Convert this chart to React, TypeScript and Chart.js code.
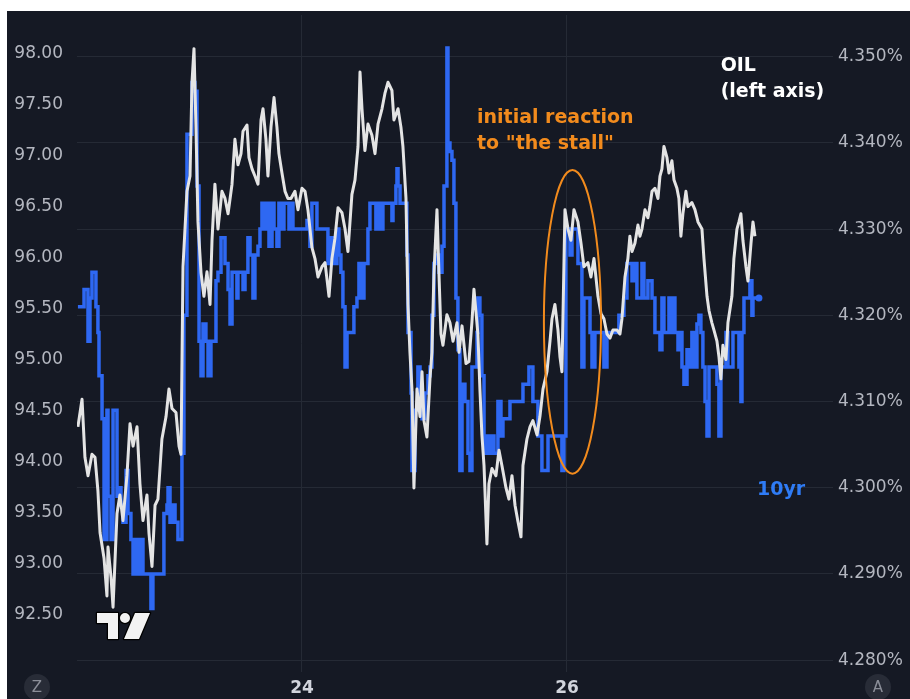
import React, { useEffect, useRef } from "react";
import { Chart, registerables } from "chart.js";

Chart.register(...registerables);

// ---- time axis (day of month) ----
const DAY_TICKS = [24, 26];
const DAY_RANGE = [22.302, 28.008];

// ---- OIL (left axis) ----
const OIL_TICKS = [92.5, 93, 93.5, 94, 94.5, 95, 95.5, 96, 96.5, 97, 97.5, 98];
const OIL_RANGE = [91.934, 98.38];
const OIL_TIMES = [
  22.309, 22.340, 22.362, 22.385, 22.415, 22.438, 22.460, 22.476, 22.506, 22.528,
  22.536, 22.559, 22.574, 22.604, 22.626, 22.649, 22.679, 22.702, 22.725, 22.755,
  22.777, 22.800, 22.830, 22.845, 22.868, 22.891, 22.913, 22.943, 22.974, 22.996,
  23.019, 23.049, 23.072, 23.087, 23.102, 23.132, 23.155, 23.170, 23.185, 23.200,
  23.215, 23.238, 23.260, 23.283, 23.306, 23.321, 23.343, 23.366, 23.396, 23.419,
  23.442, 23.472, 23.494, 23.517, 23.540, 23.555, 23.585, 23.600, 23.623, 23.645,
  23.668, 23.691, 23.706, 23.728, 23.743, 23.766, 23.789, 23.811, 23.826, 23.849,
  23.872, 23.894, 23.917, 23.947, 23.970, 24.000, 24.023, 24.045, 24.075, 24.098,
  24.121, 24.151, 24.174, 24.204, 24.226, 24.249, 24.272, 24.302, 24.325, 24.347,
  24.377, 24.400, 24.423, 24.438, 24.453, 24.475, 24.498, 24.528, 24.551, 24.574,
  24.604, 24.626, 24.649, 24.679, 24.694, 24.725, 24.747, 24.762, 24.785, 24.800,
  24.815, 24.830, 24.845, 24.868, 24.891, 24.906, 24.921, 24.943, 24.966, 24.981,
  24.996, 25.019, 25.034, 25.049, 25.064, 25.094, 25.117, 25.140, 25.170, 25.185,
  25.208, 25.238, 25.260, 25.283, 25.298, 25.328, 25.343, 25.358, 25.374, 25.396,
  25.411, 25.434, 25.464, 25.487, 25.509, 25.540, 25.562, 25.585, 25.608, 25.630,
  25.653, 25.668, 25.698, 25.721, 25.743, 25.774, 25.796, 25.819, 25.849, 25.872,
  25.887, 25.909, 25.932, 25.947, 25.962, 25.985, 26.008, 26.030, 26.053, 26.083,
  26.106, 26.128, 26.158, 26.181, 26.204, 26.234, 26.257, 26.279, 26.302, 26.325,
  26.347, 26.377, 26.400, 26.415, 26.438, 26.460, 26.475, 26.491, 26.513, 26.536,
  26.551, 26.566, 26.589, 26.611, 26.626, 26.642, 26.664, 26.687, 26.702, 26.717,
  26.732, 26.755, 26.770, 26.792, 26.808, 26.830, 26.845, 26.860, 26.875, 26.898,
  26.913, 26.943, 26.966, 26.989, 27.019, 27.034, 27.057, 27.072, 27.094, 27.109,
  27.132, 27.147, 27.162, 27.177, 27.200, 27.215, 27.245, 27.260, 27.283, 27.298,
  27.313, 27.328, 27.351, 27.366, 27.389, 27.404, 27.419,
];
const OIL_VALUES = [
  94.34, 94.61, 94.04, 93.86, 94.07, 94.04, 93.71, 93.30, 93.05, 92.68,
  93.16, 92.86, 92.57, 93.49, 93.67, 93.42, 93.86, 94.37, 94.15, 94.34,
  93.78, 93.42, 93.67, 93.30, 92.97, 93.57, 93.63, 94.22, 94.44, 94.71,
  94.52, 94.48, 94.15, 94.07, 95.91, 96.65, 96.80, 97.72, 98.05, 97.28,
  96.35, 95.85, 95.62, 95.86, 95.54, 96.17, 96.72, 96.28, 96.65, 96.58,
  96.43, 96.72, 97.16, 96.91, 97.02, 97.24, 97.30, 96.98, 96.87, 96.80,
  96.72, 97.35, 97.46, 97.16, 96.80, 97.28, 97.57, 97.28, 97.02, 96.83,
  96.65, 96.58, 96.58, 96.65, 96.47, 96.68, 96.65, 96.47, 96.10, 95.99,
  95.81, 95.91, 95.95, 95.62, 95.99, 96.19, 96.49, 96.44, 96.28, 96.06,
  96.62, 96.76, 97.09, 97.82, 97.46, 97.05, 97.31, 97.20, 97.02, 97.31,
  97.46, 97.61, 97.72, 97.64, 97.35, 97.46, 97.28, 97.09, 96.58, 95.54,
  95.07, 94.71, 93.74, 94.71, 94.44, 94.88, 94.40, 94.24, 94.81, 95.07,
  95.84, 96.47, 95.84, 95.25, 95.14, 95.44, 95.36, 95.18, 95.36, 95.07,
  95.33, 94.96, 94.98, 95.37, 95.69, 95.25, 94.71, 94.26, 93.96, 93.19,
  93.78, 93.93, 93.86, 94.11, 93.96, 93.74, 93.63, 93.86, 93.57, 93.41,
  93.26, 93.96, 94.22, 94.34, 94.40, 94.26, 94.44, 94.71, 94.88, 95.18,
  95.40, 95.54, 95.29, 95.03, 94.88, 96.47, 96.28, 96.17, 96.47, 96.35,
  96.14, 95.91, 95.95, 95.81, 95.99, 95.62, 95.45, 95.40, 95.25, 95.21,
  95.29, 95.29, 95.25, 95.40, 95.81, 95.99, 96.21, 96.06, 96.14, 96.32,
  96.21, 96.28, 96.47, 96.39, 96.50, 96.65, 96.68, 96.58, 96.80, 96.87,
  97.09, 96.98, 96.83, 96.95, 96.76, 96.68, 96.58, 96.21, 96.43, 96.65,
  96.50, 96.54, 96.47, 96.35, 96.28, 95.99, 95.62, 95.48, 95.36, 95.29,
  95.18, 95.03, 94.81, 95.14, 95.00, 95.36, 95.62, 95.99, 96.28, 96.35,
  96.43, 96.17, 95.91, 95.77, 96.14, 96.35, 96.21,
];

// ---- 10yr yield (right axis) ----
const YIELD_TICKS = [4.28, 4.29, 4.3, 4.31, 4.32, 4.33, 4.34, 4.35];
const YIELD_RANGE = [4.27862, 4.35484];
const YIELD_TIMES = [
  22.309, 22.340, 22.355, 22.377, 22.385, 22.400, 22.415, 22.430, 22.445, 22.460,
  22.468, 22.483, 22.491, 22.506, 22.528, 22.536, 22.559, 22.574, 22.604, 22.611,
  22.634, 22.649, 22.672, 22.687, 22.709, 22.725, 22.747, 22.762, 22.785, 22.800,
  22.845, 22.860, 22.875, 22.943, 22.958, 22.981, 22.989, 23.004, 23.019, 23.042,
  23.064, 23.087, 23.094, 23.109, 23.132, 23.155, 23.170, 23.192, 23.208, 23.223,
  23.238, 23.253, 23.275, 23.291, 23.313, 23.336, 23.351, 23.366, 23.389, 23.404,
  23.419, 23.442, 23.457, 23.472, 23.494, 23.509, 23.517, 23.547, 23.555, 23.570,
  23.592, 23.608, 23.623, 23.630, 23.645, 23.668, 23.683, 23.698, 23.713, 23.736,
  23.751, 23.774, 23.789, 23.811, 23.826, 23.849, 23.864, 23.887, 23.902, 23.917,
  23.932, 24.008, 24.038, 24.060, 24.075, 24.098, 24.113, 24.174, 24.196, 24.219,
  24.242, 24.264, 24.279, 24.294, 24.309, 24.325, 24.340, 24.377, 24.392, 24.415,
  24.430, 24.453, 24.468, 24.498, 24.513, 24.536, 24.558, 24.574, 24.596, 24.611,
  24.664, 24.679, 24.687, 24.709, 24.717, 24.725, 24.740, 24.777, 24.792, 24.800,
  24.823, 24.830, 24.853, 24.875, 24.891, 24.906, 24.928, 24.951, 24.966, 24.981,
  24.996, 25.019, 25.034, 25.057, 25.072, 25.094, 25.102, 25.117, 25.132, 25.147,
  25.162, 25.177, 25.192, 25.208, 25.230, 25.253, 25.268, 25.283, 25.298, 25.321,
  25.328, 25.343, 25.358, 25.374, 25.396, 25.411, 25.434, 25.449, 25.479, 25.502,
  25.517, 25.547, 25.570, 25.645, 25.668, 25.698, 25.713, 25.736, 25.743, 25.766,
  25.781, 25.796, 25.811, 25.834, 25.857, 25.932, 25.962, 25.977, 25.992, 26.008,
  26.023, 26.038, 26.060, 26.083, 26.106, 26.113, 26.128, 26.158, 26.174, 26.189,
  26.211, 26.264, 26.279, 26.302, 26.377, 26.392, 26.415, 26.430, 26.453, 26.468,
  26.491, 26.506, 26.528, 26.543, 26.566, 26.581, 26.611, 26.642, 26.664, 26.687,
  26.702, 26.717, 26.732, 26.755, 26.770, 26.785, 26.800, 26.815, 26.838, 26.853,
  26.868, 26.883, 26.906, 26.921, 26.943, 26.958, 26.981, 26.996, 27.011, 27.026,
  27.042, 27.057, 27.072, 27.109, 27.132, 27.147, 27.162, 27.177, 27.200, 27.215,
  27.238, 27.253, 27.283, 27.298, 27.313, 27.321, 27.336, 27.366, 27.381, 27.396,
  27.404, 27.449,
];
const YIELD_VALUES = [
  4.321, 4.321, 4.323, 4.323, 4.317, 4.322, 4.325, 4.325, 4.321, 4.318,
  4.313, 4.313, 4.308, 4.294, 4.309, 4.299, 4.294, 4.309, 4.299, 4.300,
  4.298, 4.296, 4.302, 4.297, 4.294, 4.290, 4.294, 4.290, 4.294, 4.290,
  4.290, 4.286, 4.290, 4.290, 4.297, 4.298, 4.300, 4.296, 4.298, 4.296,
  4.294, 4.294, 4.304, 4.320, 4.341, 4.341, 4.347, 4.346, 4.335, 4.317,
  4.313, 4.319, 4.317, 4.313, 4.317, 4.317, 4.324, 4.325, 4.329, 4.329,
  4.326, 4.323, 4.319, 4.325, 4.325, 4.322, 4.325, 4.325, 4.323, 4.325,
  4.329, 4.327, 4.327, 4.322, 4.327, 4.328, 4.330, 4.333, 4.330, 4.333,
  4.328, 4.333, 4.330, 4.328, 4.333, 4.330, 4.333, 4.333, 4.330, 4.333,
  4.330, 4.330, 4.331, 4.328, 4.333, 4.333, 4.330, 4.330, 4.326, 4.329,
  4.326, 4.330, 4.327, 4.325, 4.321, 4.314, 4.318, 4.318, 4.321, 4.322,
  4.326, 4.322, 4.326, 4.330, 4.333, 4.333, 4.330, 4.333, 4.330, 4.333,
  4.333, 4.331, 4.333, 4.335, 4.337, 4.335, 4.333, 4.333, 4.327, 4.318,
  4.311, 4.302, 4.309, 4.314, 4.310, 4.308, 4.311, 4.313, 4.314, 4.320,
  4.326, 4.327, 4.325, 4.328, 4.335, 4.351, 4.340, 4.339, 4.338, 4.333,
  4.322, 4.316, 4.302, 4.312, 4.310, 4.304, 4.302, 4.314, 4.314, 4.318,
  4.322, 4.320, 4.313, 4.304, 4.306, 4.304, 4.306, 4.304, 4.310, 4.306,
  4.308, 4.308, 4.310, 4.310, 4.312, 4.312, 4.314, 4.314, 4.310, 4.310,
  4.306, 4.306, 4.302, 4.302, 4.306, 4.306, 4.302, 4.306, 4.330, 4.330,
  4.327, 4.330, 4.330, 4.326, 4.326, 4.314, 4.322, 4.322, 4.318, 4.314,
  4.318, 4.318, 4.314, 4.318, 4.318, 4.320, 4.320, 4.322, 4.326, 4.326,
  4.324, 4.326, 4.322, 4.322, 4.326, 4.322, 4.324, 4.322, 4.318, 4.318,
  4.316, 4.322, 4.318, 4.318, 4.322, 4.318, 4.322, 4.318, 4.316, 4.318,
  4.314, 4.312, 4.316, 4.314, 4.318, 4.314, 4.319, 4.320, 4.318, 4.314,
  4.310, 4.306, 4.314, 4.314, 4.312, 4.306, 4.314, 4.314, 4.318, 4.314,
  4.314, 4.318, 4.318, 4.314, 4.310, 4.318, 4.322, 4.322, 4.324, 4.320,
  4.322, 4.322,
];

// ---- annotations (anchored in data units) ----
const STALL_NOTE = ["initial reaction", 'to "the stall"'];
const STALL_NOTE_AT = { t: 25.321, oil: 97.366 };
const OIL_NOTE = ["OIL", "(left axis)"];
const OIL_NOTE_AT = { t: 27.16, oil: 97.883 };
const YIELD_NOTE = "10yr";
const YIELD_NOTE_AT = { t: 27.434, y: 4.2997 };
const STALL_ELLIPSE = { t0: 25.826, t1: 26.257, oilTop: 96.86, oilBottom: 93.88 };

const BG = "#151924";
const GRID = "#252a35";
const OIL_COLOR = "#e4e4e4";
const YIELD_COLOR = "#2e68f2";
const ORANGE = "#f28b1d";
const FONT = "'DejaVu Sans', 'Noto Sans', sans-serif";

const overlayPlugin = {
  id: "overlay",
  afterDatasetsDraw(chart: any) {
    const { ctx, scales, chartArea } = chart;
    const x = scales.x;
    const yo = scales.yOil;
    const yy = scales.yYield;
    ctx.save();

    // ellipse
    const ex0 = x.getPixelForValue(STALL_ELLIPSE.t0);
    const ex1 = x.getPixelForValue(STALL_ELLIPSE.t1);
    const ey0 = yo.getPixelForValue(STALL_ELLIPSE.oilTop);
    const ey1 = yo.getPixelForValue(STALL_ELLIPSE.oilBottom);
    ctx.beginPath();
    ctx.ellipse((ex0 + ex1) / 2, (ey0 + ey1) / 2, (ex1 - ex0) / 2, (ey1 - ey0) / 2, 0, 0, Math.PI * 2);
    ctx.strokeStyle = ORANGE;
    ctx.lineWidth = 2;
    ctx.stroke();

    ctx.textAlign = "left";
    ctx.textBaseline = "middle";

    // stall note
    ctx.fillStyle = ORANGE;
    ctx.font = `bold 19px ${FONT}`;
    let tx = x.getPixelForValue(STALL_NOTE_AT.t);
    let ty = yo.getPixelForValue(STALL_NOTE_AT.oil);
    STALL_NOTE.forEach((line, i) => ctx.fillText(line, tx, ty + i * 26));

    // oil note
    ctx.fillStyle = "#ffffff";
    ctx.font = `bold 19px ${FONT}`;
    tx = x.getPixelForValue(OIL_NOTE_AT.t);
    ty = yo.getPixelForValue(OIL_NOTE_AT.oil);
    OIL_NOTE.forEach((line, i) => ctx.fillText(line, tx, ty + i * 26));

    // 10yr note
    ctx.fillStyle = "#2f7cf6";
    ctx.font = `bold 19px ${FONT}`;
    ctx.fillText(YIELD_NOTE, x.getPixelForValue(YIELD_NOTE_AT.t), yy.getPixelForValue(YIELD_NOTE_AT.y));

    // TradingView-style watermark logo
    const lx = chartArea.left + 20;
    const ly = chartArea.bottom - 59;
    ctx.lineJoin = "round";
    ctx.strokeStyle = "#000000";
    ctx.lineWidth = 2.5;
    ctx.fillStyle = "#f2f2f2";
    ctx.beginPath();
    ctx.moveTo(lx, ly);
    ctx.lineTo(lx + 21, ly);
    ctx.lineTo(lx + 21, ly + 26);
    ctx.lineTo(lx + 11, ly + 26);
    ctx.lineTo(lx + 11, ly + 10);
    ctx.lineTo(lx, ly + 10);
    ctx.closePath();
    ctx.moveTo(lx + 33, ly + 5);
    ctx.arc(lx + 28, ly + 5, 5, 0, Math.PI * 2);
    ctx.moveTo(lx + 38, ly);
    ctx.lineTo(lx + 53, ly);
    ctx.lineTo(lx + 42, ly + 26);
    ctx.lineTo(lx + 27, ly + 26);
    ctx.closePath();
    ctx.stroke();
    ctx.fill();
    ctx.restore();
  },
  afterDraw(chart: any) {
    const { ctx, chartArea } = chart;
    ctx.save();
    const cy = chartArea.bottom + 15;
    const buttons: [number, string][] = [
      [chartArea.left - 40, "Z"],
      [chartArea.right + 45, "A"],
    ];
    buttons.forEach(([bx, label]) => {
      ctx.beginPath();
      ctx.arc(bx, cy, 13, 0, Math.PI * 2);
      ctx.fillStyle = "#282c37";
      ctx.fill();
      ctx.fillStyle = "#8b8e98";
      ctx.font = `15px ${FONT}`;
      ctx.textAlign = "center";
      ctx.textBaseline = "middle";
      ctx.fillText(label, bx, cy + 1);
    });
    ctx.restore();
  },
};

export default function App() {
  const canvasRef = useRef<HTMLCanvasElement | null>(null);

  useEffect(() => {
    const canvas = canvasRef.current;
    if (!canvas) return;
    const oilData = OIL_TIMES.map((t, i) => ({ x: t, y: OIL_VALUES[i] }));
    const yieldData = YIELD_TIMES.map((t, i) => ({ x: t, y: YIELD_VALUES[i] }));
    const lastYield = yieldData.length - 1;

    const chart = new Chart(canvas, {
      type: "line",
      data: {
        datasets: [
          {
            label: "OIL",
            data: oilData,
            yAxisID: "yOil",
            borderColor: OIL_COLOR,
            borderWidth: 3,
            borderJoinStyle: "round",
            pointRadius: 0,
            tension: 0,
            order: 0,
          },
          {
            label: "10yr",
            data: yieldData,
            yAxisID: "yYield",
            borderColor: YIELD_COLOR,
            backgroundColor: YIELD_COLOR,
            borderWidth: 3.5,
            stepped: true,
            pointRadius: (c: any) => (c.dataIndex === lastYield ? 3.5 : 0),
            pointBorderWidth: 0,
            tension: 0,
            order: 1,
          },
        ],
      },
      options: {
        animation: false,
        responsive: false,
        maintainAspectRatio: false,
        events: [],
        layout: { padding: 0 },
        plugins: { legend: { display: false }, tooltip: { enabled: false } },
        scales: {
          x: {
            type: "linear",
            min: DAY_RANGE[0],
            max: DAY_RANGE[1],
            afterBuildTicks: (s: any) => {
              s.ticks = DAY_TICKS.map((v) => ({ value: v }));
            },
            afterFit: (s: any) => {
              s.height = 27;
              s.paddingLeft = 0;
              s.paddingRight = 0;
            },
            grid: { color: GRID, drawTicks: false, lineWidth: 1 },
            border: { display: false },
            ticks: {
              autoSkip: false,
              maxRotation: 0,
              padding: 6,
              color: "#d1d4dc",
              font: { family: FONT, size: 17, weight: "bold" },
              callback: (v: any) => String(v),
            },
          },
          yOil: {
            type: "linear",
            position: "left",
            min: OIL_RANGE[0],
            max: OIL_RANGE[1],
            afterBuildTicks: (s: any) => {
              s.ticks = OIL_TICKS.map((v) => ({ value: v }));
            },
            afterFit: (s: any) => {
              s.width = 70;
              s.paddingTop = 0;
              s.paddingBottom = 0;
            },
            grid: { display: false, drawTicks: false },
            border: { display: false },
            ticks: {
              autoSkip: false,
              padding: 14,
              color: "#b4b7c0",
              font: { family: FONT, size: 17 },
              callback: (v: any) => Number(v).toFixed(2),
            },
          },
          yYield: {
            type: "linear",
            position: "right",
            min: YIELD_RANGE[0],
            max: YIELD_RANGE[1],
            afterBuildTicks: (s: any) => {
              s.ticks = YIELD_TICKS.map((v) => ({ value: v }));
            },
            afterFit: (s: any) => {
              s.width = 77;
              s.paddingTop = 0;
              s.paddingBottom = 0;
            },
            grid: { color: GRID, drawTicks: false, lineWidth: 1 },
            border: { display: false },
            ticks: {
              autoSkip: false,
              padding: 5,
              color: "#b4b7c0",
              font: { family: FONT, size: 17 },
              callback: (v: any) => Number(v).toFixed(3) + "%",
            },
          },
        },
      },
      plugins: [overlayPlugin],
    } as any);

    return () => chart.destroy();
  }, []);

  return (
    <div
      style={{
        position: "absolute",
        left: 7,
        top: 11,
        width: 903,
        height: 688,
        background: BG,
        overflow: "hidden",
      }}
    >
      <canvas ref={canvasRef} width={903} height={688} style={{ display: "block" }} />
    </div>
  );
}
